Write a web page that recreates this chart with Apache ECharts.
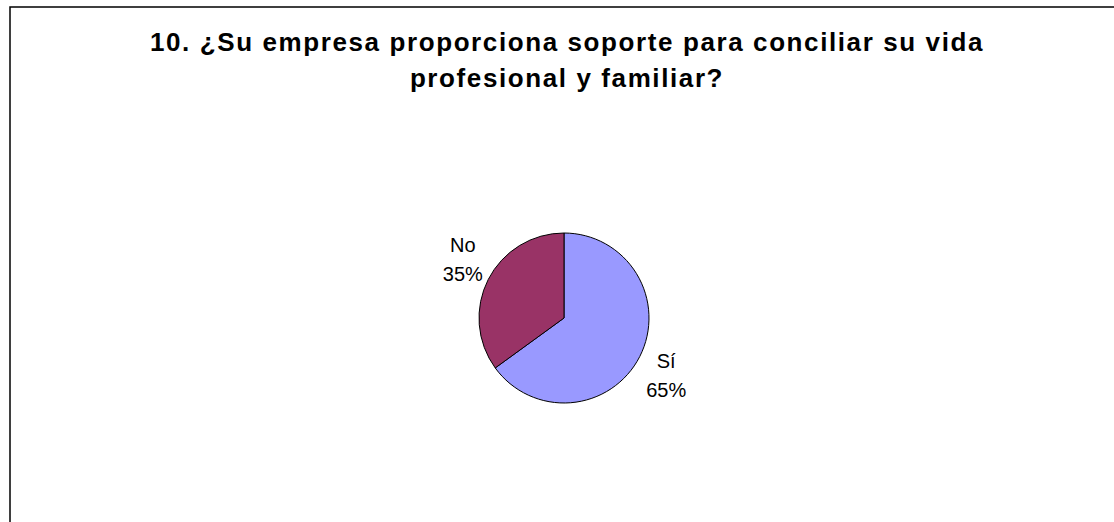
<!DOCTYPE html>
<html>
<head>
<meta charset="utf-8">
<script src="https://cdn.jsdelivr.net/npm/echarts@6/dist/echarts.min.js"></script>
<style>
  html, body { margin: 0; padding: 0; background: #fff; }
  #chart { width: 1114px; height: 522px; }
  /* wider tracking for the bold heading */
  #chart text[style*="bold"] { letter-spacing: 1.6px; }
</style>
</head>
<body>
<div id="chart"></div>
<script>
const titleLines = [
  '10. ¿Su empresa proporciona soporte para conciliar su vida',
  'profesional y familiar?'
];
const categories = ['Sí', 'No'];
const shares = [65, 35];
const sliceColors = ['#9999FF', '#993366'];

const chart = echarts.init(document.getElementById('chart'), null, { renderer: 'svg' });

chart.setOption({
  backgroundColor: '#ffffff',
  animation: false,
  title: {
    text: titleLines.join('\n'),
    left: 562,
    top: 19,
    textAlign: 'center',
    textStyle: {
      fontFamily: 'Liberation Sans, Arial, sans-serif',
      fontSize: 26,
      fontWeight: 'bold',
      color: '#000',
      lineHeight: 36
    }
  },
  graphic: [{
    type: 'rect',
    silent: true,
    shape: { x: 10, y: 7, width: 1300, height: 700 },
    style: { fill: 'none', stroke: '#000', lineWidth: 1.5 }
  }],
  series: [{
    type: 'pie',
    center: [564, 318],
    radius: 85,
    startAngle: 90,
    clockwise: true,
    avoidLabelOverlap: false,
    emphasis: { disabled: true },
    itemStyle: { borderColor: '#000', borderWidth: 1 },
    label: {
      show: true,
      position: 'outside',
      formatter: p => p.name + '\n' + Math.round(p.percent) + '%',
      fontFamily: 'Liberation Sans, Arial, sans-serif',
      fontSize: 20,
      lineHeight: 29,
      color: '#000',
      distanceToLabelLine: 5
    },
    labelLine: { show: false, length: 5, length2: 0 },
    // centre each two-line label off the slice edge
    labelLayout: p => p.dataIndex === 0
      ? { dx: 17, dy: 17, align: 'center' }
      : { dx: -16, dy: -18, align: 'center' },
    data: categories.map((name, i) => ({
      name,
      value: shares[i],
      itemStyle: { color: sliceColors[i] }
    }))
  }]
});
</script>
</body>
</html>
